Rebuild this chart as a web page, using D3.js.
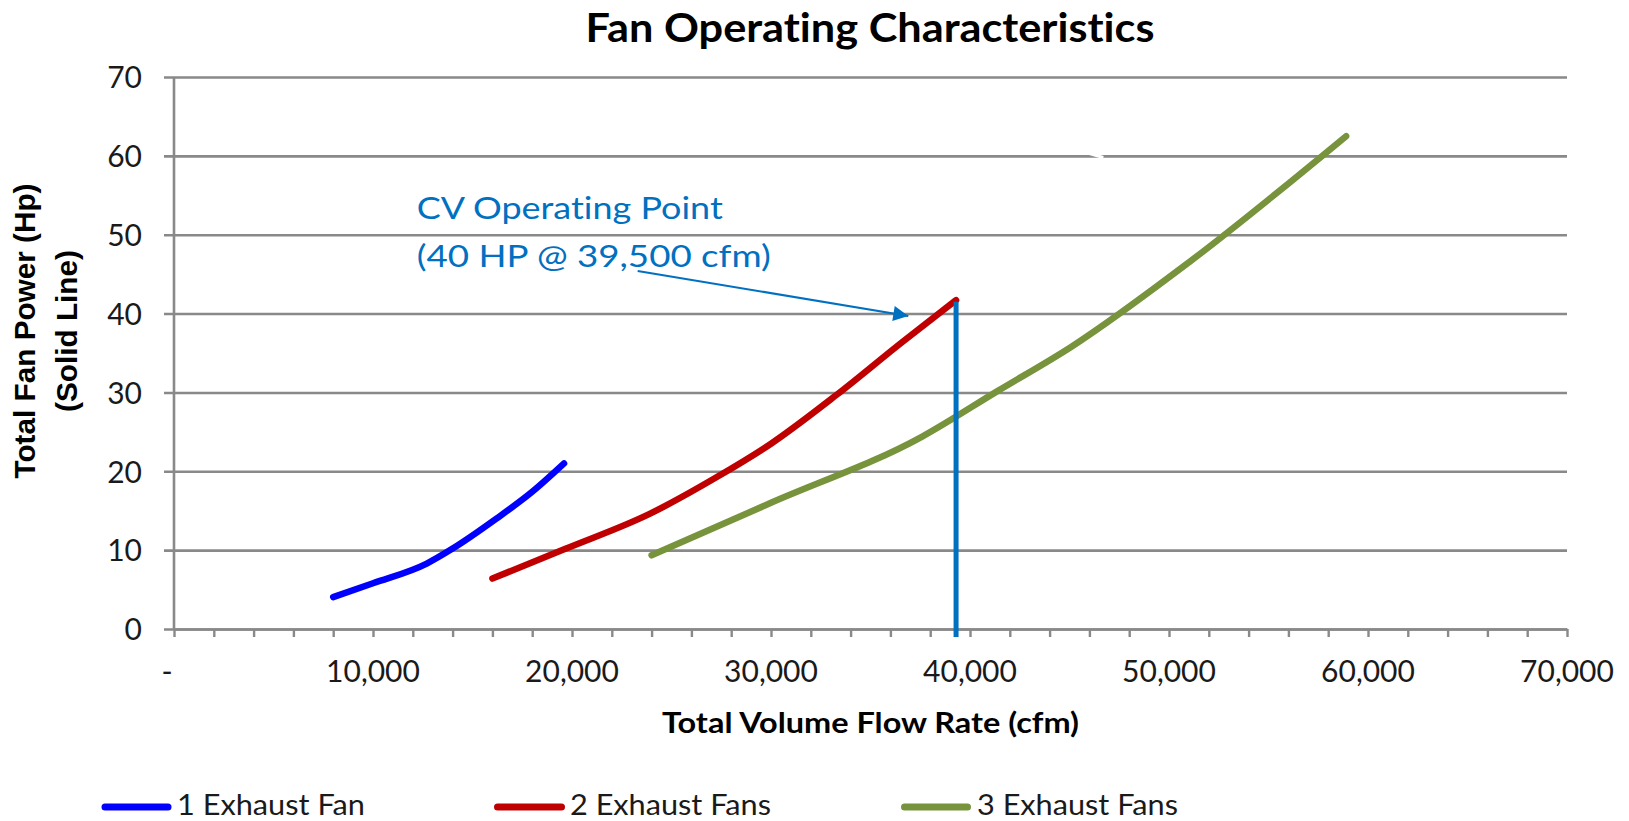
<!DOCTYPE html>
<html>
<head>
<meta charset="utf-8">
<script src="https://cdn.jsdelivr.net/npm/d3@7/dist/d3.min.js"></script>
<style>
  html, body { margin: 0; padding: 0; background: #fff; }
  svg { display: block; }
  text { font-variant-ligatures: none; font-feature-settings: "liga" 0, "clig" 0; }
</style>
</head>
<body>
<svg id="chart" width="1629" height="821"></svg>
<script>
// ---------- data ----------
const seriesNames = ["1 Exhaust Fan", "2 Exhaust Fans", "3 Exhaust Fans"];
const flow1  = [8000, 10000, 12700, 14000, 16200, 18000, 19600];
const power1 = [4.05, 5.8, 8.3, 10.2, 14.0, 17.4, 21.0];
const flow2  = [16000, 19700, 23900, 27300, 30000, 33300, 36600, 39300];
const power2 = [6.4, 10.2, 14.6, 19.3, 23.5, 29.7, 36.4, 41.7];
const flow3  = [24000, 30000, 37600, 41400, 45100, 51000, 58900];
const power3 = [9.35, 16.0, 24.4, 30.2, 35.8, 46.5, 62.5];
const xTickValues = [0, 10000, 20000, 30000, 40000, 50000, 60000, 70000];
const yTickValues = [0, 10, 20, 30, 40, 50, 60, 70];
const opFlow = 39300;              // CV operating point vertical line
const opPower = [-1, 41.5];
const arrowFrom = [23300, 45.4];
const arrowTo   = [36900, 39.7];
const annotAt   = [12200, 52.0];
const annotLines = ["CV Operating Point", "(40 HP @ 39,500 cfm)"];
const titleText = "Fan Operating Characteristics";
const xTitle = "Total Volume Flow Rate (cfm)";
const yTitle = ["Total Fan Power (Hp)", "(Solid Line)"];

(function () {
// ---------- layout ----------
const pLeft = 174, pRight = 1567, pTop = 77, pBottom = 629;
const colors = ["#0000FF", "#C00000", "#77933C"];
const annotColor = "#0070C0";
const gridColor = "#898989";
const textFont = "Lato, 'Open Sans', sans-serif";

const svg = d3.select("#chart");
const x = d3.scaleLinear().domain([0, 70000]).range([pLeft, pRight]);
const y = d3.scaleLinear().domain([0, 70]).range([pBottom, pTop]);

// gridlines + y axis
const yAxis = d3.axisLeft(y).tickValues(yTickValues).tickSize(-(pRight - pLeft)).tickSizeOuter(0).tickPadding(32).tickFormat(d3.format("d"));
const gy = svg.append("g").attr("transform", `translate(${pLeft},0)`).call(yAxis);
gy.select(".domain").remove();
gy.selectAll(".tick line").attr("stroke", gridColor).attr("stroke-width", 2.6).attr("x1", -10);
gy.selectAll(".tick text")
  .attr("font-family", textFont).attr("font-size", 30).attr("fill", "#1a1a1a")
  .attr("dy", "0.36em");

// y axis line
svg.append("line").attr("x1", pLeft).attr("x2", pLeft).attr("y1", pTop).attr("y2", pBottom)
  .attr("stroke", gridColor).attr("stroke-width", 2.6);

// x axis
const xAxis = d3.axisBottom(x).tickValues(d3.range(0, 70001, 2000))
  .tickSize(8).tickSizeOuter(0).tickFormat(() => "");
const gx = svg.append("g").attr("transform", `translate(0,${pBottom})`).call(xAxis);
gx.select(".domain").attr("stroke", gridColor).attr("stroke-width", 2.6);
gx.selectAll(".tick line").attr("stroke", gridColor).attr("stroke-width", 2.4);

const fmt = d3.format(",");
svg.append("g").selectAll("text").data(xTickValues).join("text")
  .attr("x", d => x(d) + (d === 0 ? -7 : 0))
  .attr("y", pBottom + 53)
  .attr("text-anchor", "middle")
  .attr("font-family", textFont).attr("font-size", 30).attr("fill", "#1a1a1a")
  .text(d => d === 0 ? "-" : fmt(d));

// white artifact over 60 gridline
svg.append("line")
  .attr("x1", x(45300)).attr("y1", y(60.8)).attr("x2", x(46700)).attr("y2", y(59.8))
  .attr("stroke", "#fff").attr("stroke-width", 3);

// series
const series = [
  flow1.map((f, i) => [f, power1[i]]),
  flow2.map((f, i) => [f, power2[i]]),
  flow3.map((f, i) => [f, power3[i]])
];
const line = d3.line().x(d => x(d[0])).y(d => y(d[1])).curve(d3.curveMonotoneX);
svg.append("g").selectAll("path").data(series).join("path")
  .attr("d", line)
  .attr("fill", "none")
  .attr("stroke", (d, i) => colors[i])
  .attr("stroke-width", 6.5)
  .attr("stroke-linecap", "round")
  .attr("stroke-linejoin", "round");

// operating point vertical line
svg.append("line")
  .attr("x1", x(opFlow)).attr("x2", x(opFlow))
  .attr("y1", y(opPower[1])).attr("y2", y(opPower[0]))
  .attr("stroke", annotColor).attr("stroke-width", 5);

// arrow
const defs = svg.append("defs");
defs.append("marker").attr("id", "arrowhead")
  .attr("viewBox", "0 0 10 10").attr("refX", 10).attr("refY", 5)
  .attr("markerUnits", "userSpaceOnUse")
  .attr("markerWidth", 17).attr("markerHeight", 15)
  .attr("orient", "auto")
  .append("path").attr("d", "M0,0 L10,5 L0,10 Z").attr("fill", annotColor);
svg.append("line")
  .attr("x1", x(arrowFrom[0])).attr("y1", y(arrowFrom[1]))
  .attr("x2", x(arrowTo[0])).attr("y2", y(arrowTo[1]))
  .attr("stroke", annotColor).attr("stroke-width", 2)
  .attr("marker-end", "url(#arrowhead)");

// annotation text
const annotWidths = [306, 354];
svg.append("g").selectAll("text").data(annotLines).join("text")
  .attr("x", x(annotAt[0]))
  .attr("y", (d, i) => y(annotAt[1]) + i * 48.4)
  .attr("font-family", textFont).attr("font-size", 31).attr("fill", annotColor)
  .attr("textLength", (d, i) => annotWidths[i]).attr("lengthAdjust", "spacingAndGlyphs")
  .text(d => d);

// title
svg.append("text")
  .attr("x", 870).attr("y", 41.7).attr("text-anchor", "middle")
  .attr("font-family", textFont).attr("font-weight", "bold").attr("font-size", 39.5)
  .attr("textLength", 569).attr("lengthAdjust", "spacingAndGlyphs")
  .attr("fill", "#000").text(titleText);

// x axis title
svg.append("text")
  .attr("x", (pLeft + pRight) / 2).attr("y", 733).attr("text-anchor", "middle")
  .attr("font-family", textFont).attr("font-weight", "bold").attr("font-size", 29)
  .attr("textLength", 417).attr("lengthAdjust", "spacingAndGlyphs")
  .attr("fill", "#000").text(xTitle);

// y axis title
const yTitleWidths = [295, 162];
svg.append("g").selectAll("text").data(yTitle).join("text")
  .attr("transform", "rotate(-90)")
  .attr("text-anchor", "middle")
  .attr("x", -331)
  .attr("y", (d, i) => 35 + i * 42)
  .attr("font-family", "'Liberation Sans', Arial, sans-serif").attr("font-weight", "bold").attr("font-size", 30)
  .attr("textLength", (d, i) => yTitleWidths[i]).attr("lengthAdjust", "spacingAndGlyphs")
  .attr("fill", "#000")
  .text(d => d);

// legend
const legendLineX = [[105, 168], [497.5, 561.5], [904.5, 967.5]];
const legendTextX = [177, 570, 977];
const legendTextW = [188, 201, 201];
const lg = svg.append("g");
seriesNames.forEach((name, i) => {
  lg.append("line")
    .attr("x1", legendLineX[i][0]).attr("x2", legendLineX[i][1])
    .attr("y1", 807).attr("y2", 807)
    .attr("stroke", colors[i]).attr("stroke-width", 7).attr("stroke-linecap", "round");
  lg.append("text")
    .attr("x", legendTextX[i]).attr("y", 815)
    .attr("font-family", textFont).attr("font-size", 28).attr("fill", "#1a1a1a")
    .attr("textLength", legendTextW[i]).attr("lengthAdjust", "spacingAndGlyphs")
    .text(name);
});
})();
</script>
</body>
</html>
